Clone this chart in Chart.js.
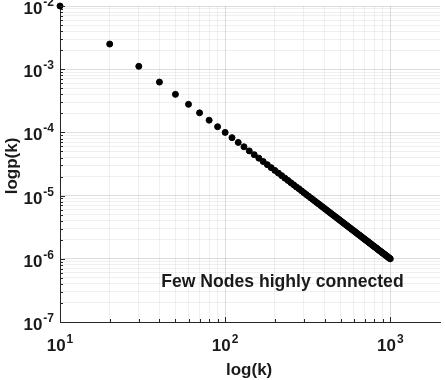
<!DOCTYPE html>
<html>
<head>
<meta charset="utf-8">
<script src="https://cdn.jsdelivr.net/npm/chart.js@4"></script>
<style>
  html, body { margin: 0; padding: 0; background: #fff; }
  #wrap { width: 445px; height: 380px; }
</style>
</head>
<body>
<div id="wrap"><canvas id="chart" width="445" height="380"></canvas></div>
<script>
// degree k and its probability p(k)
const kValues = [10, 20, 30, 40, 50, 60, 70, 80, 90, 100,
    110, 120, 130, 140, 150, 160, 170, 180, 190, 200,
    210, 220, 230, 240, 250, 260, 270, 280, 290, 300,
    310, 320, 330, 340, 350, 360, 370, 380, 390, 400,
    410, 420, 430, 440, 450, 460, 470, 480, 490, 500,
    510, 520, 530, 540, 550, 560, 570, 580, 590, 600,
    610, 620, 630, 640, 650, 660, 670, 680, 690, 700,
    710, 720, 730, 740, 750, 760, 770, 780, 790, 800,
    810, 820, 830, 840, 850, 860, 870, 880, 890, 900,
    910, 920, 930, 940, 950, 960, 970, 980, 990, 1000];
const pValues = [1.0e-2, 2.5e-3, 1.11e-3, 6.25e-4, 4.0e-4, 2.78e-4, 2.04e-4, 1.56e-4, 1.23e-4, 1.0e-4,
    8.26e-5, 6.94e-5, 5.92e-5, 5.10e-5, 4.44e-5, 3.91e-5, 3.46e-5, 3.09e-5, 2.77e-5, 2.5e-5,
    2.27e-5, 2.07e-5, 1.89e-5, 1.74e-5, 1.6e-5, 1.48e-5, 1.37e-5, 1.28e-5, 1.19e-5, 1.11e-5,
    1.04e-5, 9.77e-6, 9.18e-6, 8.65e-6, 8.16e-6, 7.72e-6, 7.31e-6, 6.93e-6, 6.58e-6, 6.25e-6,
    5.95e-6, 5.67e-6, 5.41e-6, 5.17e-6, 4.94e-6, 4.73e-6, 4.53e-6, 4.34e-6, 4.17e-6, 4.0e-6,
    3.84e-6, 3.70e-6, 3.56e-6, 3.43e-6, 3.31e-6, 3.19e-6, 3.08e-6, 2.97e-6, 2.87e-6, 2.78e-6,
    2.69e-6, 2.60e-6, 2.52e-6, 2.44e-6, 2.37e-6, 2.30e-6, 2.23e-6, 2.16e-6, 2.10e-6, 2.04e-6,
    1.98e-6, 1.93e-6, 1.88e-6, 1.83e-6, 1.78e-6, 1.73e-6, 1.69e-6, 1.64e-6, 1.60e-6, 1.56e-6,
    1.52e-6, 1.49e-6, 1.45e-6, 1.42e-6, 1.38e-6, 1.35e-6, 1.32e-6, 1.29e-6, 1.26e-6, 1.23e-6,
    1.21e-6, 1.18e-6, 1.16e-6, 1.13e-6, 1.11e-6, 1.09e-6, 1.06e-6, 1.04e-6, 1.02e-6, 1.0e-6];

// axis ticks (grid at every minor step, labels only at decades)
const xTickValues = [10, 20, 30, 40, 50, 60, 70, 80, 90, 100, 200, 300, 400, 500, 600, 700, 800, 900, 1000];
const xMajor = [10, 100, 1000];
const xExponents = ['1', '2', '3'];
const yTickValues = [1e-7, 2e-7, 3e-7, 4e-7, 5e-7, 6e-7, 7e-7, 8e-7, 9e-7,
    1e-6, 2e-6, 3e-6, 4e-6, 5e-6, 6e-6, 7e-6, 8e-6, 9e-6,
    1e-5, 2e-5, 3e-5, 4e-5, 5e-5, 6e-5, 7e-5, 8e-5, 9e-5,
    1e-4, 2e-4, 3e-4, 4e-4, 5e-4, 6e-4, 7e-4, 8e-4, 9e-4,
    1e-3, 2e-3, 3e-3, 4e-3, 5e-3, 6e-3, 7e-3, 8e-3, 9e-3, 1e-2];
const yMajor = [1e-7, 1e-6, 1e-5, 1e-4, 1e-3, 1e-2];
const yExponents = ['-7', '-6', '-5', '-4', '-3', '-2'];

const xTitle = 'log(k)';
const yTitle = 'logp(k)';
const note = 'Few Nodes highly connected';
const noteAt = { x: 41, y: 3.6e-7 };

const FONT = '"Liberation Sans", Arial, sans-serif';

function isMajor(v) {
    const l = Math.log10(v);
    return Math.abs(l - Math.round(l)) < 1e-6;
}

function drawPow(ctx, cx, baseY, exp, align) {
    ctx.font = 'bold 17px ' + FONT;
    const wb = ctx.measureText('10').width;
    ctx.font = 'bold 12px ' + FONT;
    const we = ctx.measureText(exp).width;
    let left = align === 'right' ? cx - wb - we - 1 : cx - (wb + we + 1) / 2;
    ctx.textAlign = 'left';
    ctx.textBaseline = 'alphabetic';
    ctx.font = 'bold 17px ' + FONT;
    ctx.fillText('10', left, baseY);
    ctx.font = 'bold 12px ' + FONT;
    ctx.fillText(exp, left + wb + 1, baseY - 8);
}

const decorations = {
    id: 'decorations',
    afterDraw(chart) {
        const ctx = chart.ctx;
        const xs = chart.scales.x, ys = chart.scales.y;
        const area = chart.chartArea;
        ctx.save();
        // inward minor ticks
        ctx.strokeStyle = '#262626';
        ctx.lineWidth = 1;
        ctx.beginPath();
        yTickValues.forEach(v => {
            const py = Math.round(ys.getPixelForValue(v)) + 0.5;
            const len = isMajor(v) ? 5 : 3;
            ctx.moveTo(area.left, py);
            ctx.lineTo(area.left + len, py);
        });
        xTickValues.forEach(v => {
            const px = Math.round(xs.getPixelForValue(v)) + 0.5;
            const len = isMajor(v) ? 5 : 3;
            ctx.moveTo(px, area.bottom);
            ctx.lineTo(px, area.bottom - len);
        });
        ctx.stroke();

        ctx.fillStyle = '#1a1a1a';
        // tick labels
        yMajor.forEach((v, i) => {
            const py = ys.getPixelForValue(v);
            drawPow(ctx, area.left - 6, py + 8, yExponents[i], 'right');
        });
        xMajor.forEach((v, i) => {
            const px = xs.getPixelForValue(v);
            drawPow(ctx, px, area.bottom + 29, xExponents[i], 'center');
        });

        // axis titles
        ctx.font = 'bold 17px ' + FONT;
        ctx.textAlign = 'center';
        ctx.textBaseline = 'alphabetic';
        ctx.fillText(xTitle, xs.getPixelForValue(100) + 24, area.bottom + 53);
        ctx.save();
        ctx.translate(17, (area.top + area.bottom) / 2 + 2);
        ctx.rotate(-Math.PI / 2);
        ctx.fillText(yTitle, 0, 0);
        ctx.restore();

        // annotation
        ctx.font = 'bold 17.6px ' + FONT;
        ctx.textAlign = 'left';
        ctx.fillText(note, xs.getPixelForValue(noteAt.x), ys.getPixelForValue(noteAt.y));
        ctx.restore();
    }
};

new Chart(document.getElementById('chart'), {
    type: 'scatter',
    data: {
        datasets: [{
            data: kValues.map((k, i) => ({ x: k, y: pValues[i] })),
            backgroundColor: '#000',
            borderColor: '#000',
            pointRadius: 3,
            pointHoverRadius: 3,
            clip: false
        }]
    },
    options: {
        responsive: false,
        animation: false,
        layout: { padding: { left: 60, top: 6, right: 5, bottom: 58 } },
        plugins: {
            legend: { display: false },
            tooltip: { enabled: false }
        },
        scales: {
            x: {
                type: 'logarithmic',
                min: 10,
                max: 2000,
                afterBuildTicks: s => { s.ticks = xTickValues.map(v => ({ value: v })); },
                ticks: { display: false },
                grid: {
                    drawTicks: false,
                    color: c => isMajor(c.tick.value) ? 'rgba(0,0,0,0.13)' : 'rgba(0,0,0,0.06)'
                },
                border: { color: '#262626', width: 1 }
            },
            y: {
                type: 'logarithmic',
                min: 1e-7,
                max: 1e-2,
                afterBuildTicks: s => { s.ticks = yTickValues.map(v => ({ value: v })); },
                ticks: { display: false },
                grid: {
                    drawTicks: false,
                    color: c => isMajor(c.tick.value) ? 'rgba(0,0,0,0.13)' : 'rgba(0,0,0,0.06)'
                },
                border: { color: '#262626', width: 1 }
            }
        }
    },
    plugins: [decorations]
});
</script>
</body>
</html>
